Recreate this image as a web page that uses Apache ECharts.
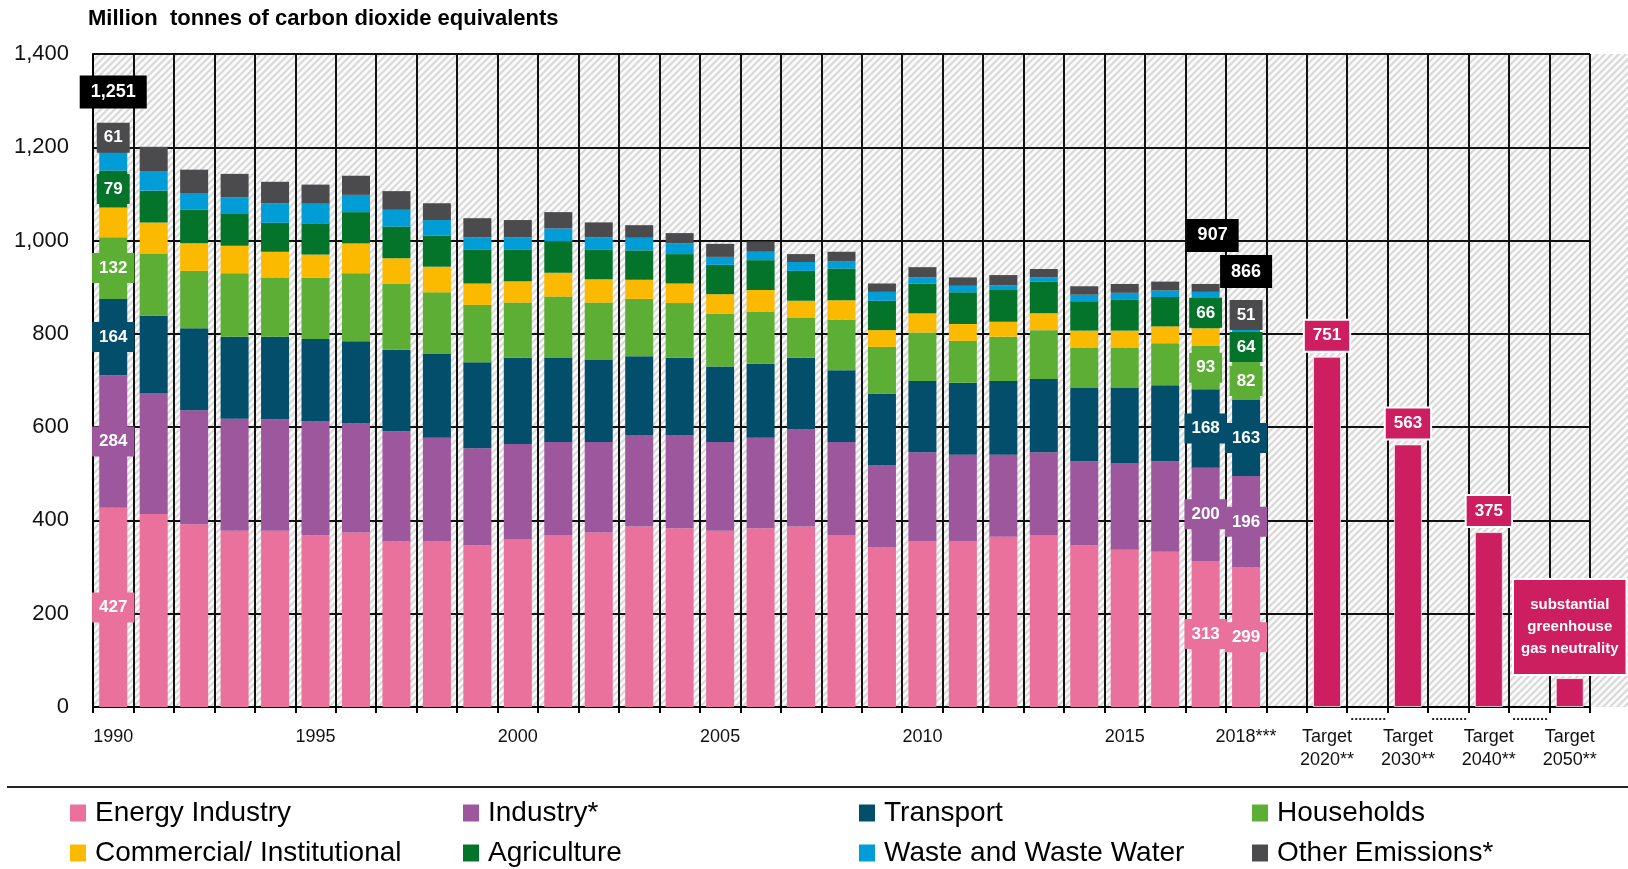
<!DOCTYPE html>
<html>
<head>
<meta charset="utf-8">
<title>Greenhouse gas emissions by sector</title>
<script src="https://cdn.jsdelivr.net/npm/echarts@6/dist/echarts.min.js"></script>
<style>
  html, body { margin: 0; padding: 0; background: #fff; }
  #main { width: 1628px; height: 869px; }
</style>
</head>
<body>
<div id="main"></div>
<script>
// --- data (million tonnes CO2 equivalents) ---
var years = ['1990', '1991', '1992', '1993', '1994', '1995', '1996', '1997', '1998', '1999',
  '2000', '2001', '2002', '2003', '2004', '2005', '2006', '2007', '2008', '2009',
  '2010', '2011', '2012', '2013', '2014', '2015', '2016', '2017', '2018***'];

var energy      = [427, 414, 392, 378, 378, 368, 374, 355, 355, 347, 360, 369, 374, 387, 383, 378, 383, 387, 369, 342, 356, 356, 365, 369, 347, 337, 333, 313, 299];
var industry    = [284, 259, 244, 240, 239, 244, 234, 236, 222, 208, 204, 199, 194, 195, 199, 190, 194, 208, 199, 176, 190, 185, 176, 177, 180, 186, 194, 200, 196];
var transport   = [164, 166, 176, 176, 177, 177, 176, 175, 180, 184, 185, 180, 176, 170, 167, 162, 159, 154, 154, 154, 153, 154, 158, 157, 157, 161, 163, 168, 163];
var households  = [132, 132, 123, 136, 127, 131, 146, 141, 132, 123, 118, 132, 123, 123, 117, 113, 112, 85, 109, 100, 104, 90, 95, 105, 87, 87, 90, 93, 82];
var commercial  = [64, 68, 59, 59, 55, 50, 64, 55, 55, 46, 46, 51, 50, 41, 42, 42, 46, 37, 41, 36, 41, 36, 32, 36, 36, 36, 36, 38, 0];
var agriculture = [79, 68, 72, 68, 62, 67, 67, 68, 67, 72, 67, 67, 63, 63, 63, 63, 64, 64, 68, 63, 64, 68, 68, 68, 63, 67, 63, 66, 64];
var waste       = [40, 42, 36, 36, 42, 42, 37, 36, 33, 27, 27, 28, 27, 27, 23, 17, 18, 19, 15, 19, 13, 14, 10, 9, 14, 14, 14, 12, 11];
var other       = [61, 52, 50, 50, 46, 41, 41, 40, 36, 41, 37, 35, 32, 27, 22, 28, 22, 17, 21, 18, 22, 18, 22, 18, 18, 19, 19, 17, 51];

var targetCats = ['Target\n2020**', 'Target\n2030**', 'Target\n2040**', 'Target\n2050**'];
var targets = [751, 563, 375, 62];
var gapCats = ['gap0', 'gap1', 'gap2', 'gap3'];

var categories = years.concat([gapCats[0], targetCats[0], gapCats[1], targetCats[1],
  gapCats[2], targetCats[2], gapCats[3], targetCats[3]]);
var tickLabels = ['1990', '1995', '2000', '2005', '2010', '2015', '2018***'].concat(targetCats);

// which years carry value labels / total labels
var labelYears = { energy: ['1990', '2017', '2018***'], industry: ['1990', '2017', '2018***'],
  transport: ['1990', '2017', '2018***'], households: ['1990', '2017', '2018***'],
  commercial: [], agriculture: ['1990', '2017', '2018***'], waste: [], other: ['1990', '2018***'] };
var totalYears = ['1990', '2017', '2018***'];

var sectors = [
  { key: 'energy', name: 'Energy Industry', color: '#E9719B', values: energy },
  { key: 'industry', name: 'Industry*', color: '#9D579C', values: industry },
  { key: 'transport', name: 'Transport', color: '#034E6B', values: transport },
  { key: 'households', name: 'Households', color: '#5DAE35', values: households },
  { key: 'commercial', name: 'Commercial/ Institutional', color: '#FBBA00', values: commercial },
  { key: 'agriculture', name: 'Agriculture', color: '#03742A', values: agriculture },
  { key: 'waste', name: 'Waste and Waste Water', color: '#009DD6', values: waste },
  { key: 'other', name: 'Other Emissions*', color: '#4B4B4D', values: other }
];
var targetColor = '#CD1F5F';
var FONT = 'Liberation Sans, Arial, sans-serif';

// layout
var W = 1628, H = 869, gridLeft = 93, gridRight = 38, gridTop = 54, gridBottom = 162;

// hatch pattern for the plot background
var pat = document.createElement('canvas');
pat.width = 7; pat.height = 7;
var pc = pat.getContext('2d');
pc.fillStyle = '#fbfbfb';
pc.fillRect(0, 0, 7, 7);
pc.strokeStyle = '#d9d9d9';
pc.lineWidth = 2.2;
pc.beginPath();
pc.moveTo(0, 7); pc.lineTo(7, 0);
pc.moveTo(-1, 1); pc.lineTo(1, -1);
pc.moveTo(6, 8); pc.lineTo(8, 6);
pc.stroke();
var hatch = { image: pat, repeat: 'repeat' };

var series = sectors.map(function (s) {
  var data = categories.map(function (c, i) {
    if (i >= years.length) return '-';
    var v = s.values[i];
    if (labelYears[s.key].indexOf(c) >= 0) return { value: v, label: { show: true } };
    return v;
  });
  return {
    name: s.name,
    type: 'bar',
    stack: 'em',
    barWidth: 28,
    itemStyle: { color: s.color },
    label: {
      show: false, position: 'inside', color: '#fff', fontFamily: FONT,
      fontWeight: 'bold', fontSize: 17, lineHeight: 20,
      backgroundColor: s.color, padding: [5, 7]
    },
    data: data
  };
});

series.push({
  name: 'Targets',
  type: 'bar',
  stack: 'em',
  barWidth: 28,
  itemStyle: { color: targetColor, borderColor: 'rgba(255,255,255,0.7)', borderWidth: 1 },
  label: {
    show: true, position: 'top', distance: 6, color: '#fff', fontFamily: FONT,
    fontWeight: 'bold', fontSize: 17, lineHeight: 20,
    backgroundColor: targetColor, borderColor: '#fff', borderWidth: 2, padding: [5, 8]
  },
  data: categories.map(function (c) {
    var k = targetCats.indexOf(c);
    if (k < 0) return '-';
    if (k === targetCats.length - 1) {
      return {
        value: targets[k],
        label: {
          formatter: 'substantial\ngreenhouse\ngas neutrality', fontSize: 15, lineHeight: 22,
          padding: [14, 7], distance: 4
        }
      };
    }
    return targets[k];
  })
});

// totals above selected bars
series.push({
  name: 'Total',
  type: 'scatter',
  symbolSize: 0,
  silent: true,
  itemStyle: { opacity: 1 },
  label: {
    show: true, position: 'top', distance: 15, color: '#fff', fontFamily: FONT,
    fontWeight: 'bold', fontSize: 18, lineHeight: 21, backgroundColor: '#000', padding: [6, 11],
    opacity: 1,
    formatter: function (p) { return Number(p.value).toLocaleString('en-US'); }
  },
  data: categories.map(function (c, i) {
    if (totalYears.indexOf(c) < 0) return '-';
    var sum = 0;
    sectors.forEach(function (s) { sum += s.values[i]; });
    if (c === '2017') return { value: sum, label: { offset: [7, -17] } };
    return sum;
  }),
  z: 5
});

// dotted spacers under the axis between the targets
series.push({
  type: 'custom',
  silent: true,
  clip: false,
  renderItem: function (params, api) {
    var c = api.coord([api.value(0), 0]);
    var w = api.size([1, 0])[0];
    return {
      type: 'line',
      shape: { x1: c[0] - w / 2 + 4, y1: c[1] + 12, x2: c[0] + w / 2 - 1, y2: c[1] + 12 },
      style: { stroke: '#222', lineWidth: 2, lineDash: [2, 2] }
    };
  },
  data: gapCats.slice(1).map(function (g) { return [categories.indexOf(g), 0]; })
});

function legendCol(left, names) {
  return {
    orient: 'vertical', left: left, top: 798, padding: 0,
    itemWidth: 16, itemHeight: 17, itemGap: 10, icon: 'rect', selectedMode: false,
    textStyle: { fontFamily: FONT, fontSize: 28, lineHeight: 30, color: '#000', padding: [0, 0, 0, 4] },
    data: names
  };
}

var chart = echarts.init(document.getElementById('main'));
chart.setOption({
  animation: false,
  textStyle: { fontFamily: FONT },
  title: {
    text: 'Million  tonnes of carbon dioxide equivalents',
    left: 88, top: 8, padding: 0,
    textStyle: { fontFamily: FONT, fontSize: 22, fontWeight: 'bold', color: '#000' }
  },
  legend: [
    legendCol(70, ['Energy Industry', 'Commercial/ Institutional']),
    legendCol(463, ['Industry*', 'Agriculture']),
    legendCol(859, ['Transport', 'Waste and Waste Water']),
    legendCol(1252, ['Households', 'Other Emissions*'])
  ],
  grid: {
    left: gridLeft, right: gridRight, top: gridTop, bottom: gridBottom,
    show: true, borderWidth: 0, backgroundColor: hatch
  },
  xAxis: {
    type: 'category',
    data: categories,
    axisLine: { lineStyle: { color: '#000', width: 2 } },
    axisTick: { show: true, interval: 0, length: 6, lineStyle: { color: '#000', width: 2 } },
    axisLabel: {
      interval: 0, margin: 19, fontSize: 18, lineHeight: 23, color: '#111', fontFamily: FONT,
      formatter: function (v) { return tickLabels.indexOf(v) >= 0 ? v : ''; }
    },
    splitLine: { show: true, interval: 0, lineStyle: { color: '#111', width: 2 } }
  },
  yAxis: {
    type: 'value', min: 0, max: 1400, interval: 200,
    axisLine: { show: true, lineStyle: { color: '#000', width: 2 } },
    axisTick: { show: false },
    axisLabel: {
      margin: 24, fontSize: 22, color: '#111', fontFamily: FONT,
      formatter: function (v) { return v.toLocaleString('en-US'); }
    },
    splitLine: { lineStyle: { color: '#111', width: 2 } }
  },
  graphic: [
    {
      type: 'rect', silent: true, z: -10,
      shape: { x: W - gridRight, y: gridTop, width: gridRight, height: H - gridTop - gridBottom },
      style: { fill: hatch }
    },
    {
      type: 'line', silent: true,
      shape: { x1: 7, y1: 787, x2: W, y2: 787 },
      style: { stroke: '#222', lineWidth: 2 }
    }
  ],
  series: series
});
</script>
</body>
</html>
